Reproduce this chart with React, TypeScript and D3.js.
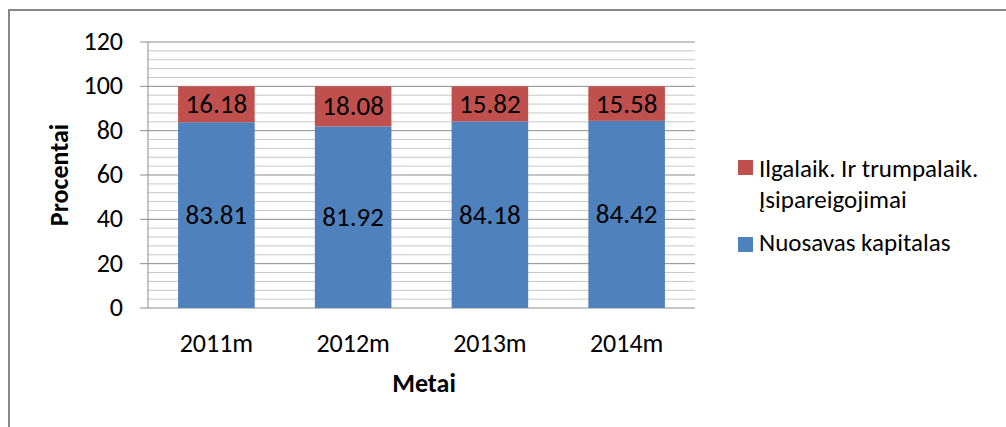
import React from "react";
import * as d3 from "d3";

const categories = ["2011m", "2012m", "2013m", "2014m"];
const equity = [83.81, 81.92, 84.18, 84.42];
const liabilities = [16.18, 18.08, 15.82, 15.58];
const yTicks = [0, 20, 40, 60, 80, 100, 120];
const seriesNames = ["Ilgalaik. Ir trumpalaik.", "Įsipareigojimai", "Nuosavas kapitalas"];

const BLUE = "#4F81BD";
const RED = "#C0504D";
const FONT = "Carlito, Lato, 'Open Sans', sans-serif";

export default function App() {
  const W = 1006, H = 427;
  const left = 148, right = 695, top = 42, bottom = 308;
  const x = d3.scaleBand<string>().domain(categories).range([left, right]).paddingInner(0.44).paddingOuter(0.22);
  const y = d3.scaleLinear().domain([0, 120]).range([bottom, top]);
  const minor = d3.range(0, 121, 4).filter((v) => v % 20 !== 0);

  return (
    <svg width={W} height={H} style={{ position: "absolute", left: 0, top: 0, background: "#fff" }} fontFamily={FONT}>
      <rect x={9} y={10} width={W + 20} height={H + 20} fill="#fff" stroke="#888" strokeWidth={2} />
      {minor.map((v) => (
        <line key={"m" + v} x1={left} x2={right} y1={y(v)} y2={y(v)} stroke="#C8C8C8" strokeWidth={1} />
      ))}
      {yTicks.map((v) => (
        <line key={"M" + v} x1={left - 8} x2={right} y1={y(v)} y2={y(v)} stroke="#8C8C8C" strokeWidth={1} />
      ))}
      <line x1={left} x2={left} y1={top} y2={bottom} stroke="#8C8C8C" strokeWidth={1} />
      {yTicks.map((v) => (
        <text key={"t" + v} x={123} y={y(v) + 8} textAnchor="end" fontSize={26} fill="#000">{v}</text>
      ))}
      {categories.map((c, i) => {
        const bx = x(c)!;
        const bw = x.bandwidth();
        return (
          <g key={c}>
            <rect x={bx} y={y(equity[i])} width={bw} height={y(0) - y(equity[i])} fill={BLUE} />
            <rect x={bx} y={y(equity[i] + liabilities[i])} width={bw} height={y(equity[i]) - y(equity[i] + liabilities[i])} fill={RED} />
            <text x={bx + bw / 2} y={y(equity[i] / 2) + 9} textAnchor="middle" fontSize={27} fill="#000">{equity[i].toFixed(2)}</text>
            <text x={bx + bw / 2} y={y(equity[i] + liabilities[i] / 2) + 9} textAnchor="middle" fontSize={27} fill="#000">{liabilities[i].toFixed(2)}</text>
            <text x={bx + bw / 2} y={352} textAnchor="middle" fontSize={26} fill="#000">{c}</text>
          </g>
        );
      })}
      <text x={424} y={392} textAnchor="middle" fontSize={26} fontWeight="bold" fill="#000">Metai</text>
      <text transform={`translate(68,175) rotate(-90)`} textAnchor="middle" fontSize={26} fontWeight="bold" fill="#000">Procentai</text>
      <rect x={738} y={160} width={15} height={15} fill={RED} />
      <text x={759} y={177} fontSize={25} fill="#000">{seriesNames[0]}</text>
      <text x={759} y={208} fontSize={25} fill="#000">{seriesNames[1]}</text>
      <rect x={738} y={237} width={15} height={15} fill={BLUE} />
      <text x={759} y={251} fontSize={25} fill="#000">{seriesNames[2]}</text>
    </svg>
  );
}
